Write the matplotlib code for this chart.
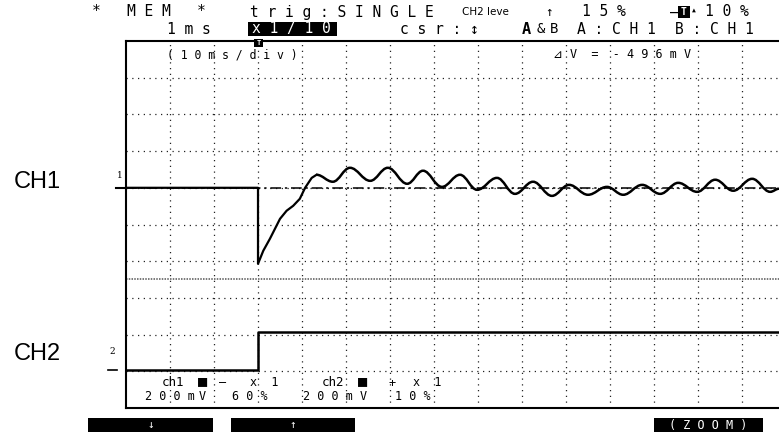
import numpy as np
import matplotlib.pyplot as plt
from matplotlib.path import Path
from matplotlib.patches import PathPatch, Rectangle

# time base: 10 ms/div, trigger at t = 0
t_left, t_right = -30.0, 118.4
ms_per_div = 10
mv_per_div = 200
ch1_pos = 6   # 60 %
ch2_pos = 1   # 10 %

# CH1 step response (mV) up to the first overshoot
ch1_t = [-30, 0, 0, 1.2, 2.7, 5.0, 6.5, 8.0, 9.5, 10.7, 12.2, 13.3]
ch1_mv = [0, 0, -414, -343, -278, -169, -125, -98, -60, 0, 54, 71]

# CH1 ringing: successive peaks and troughs (mV)
ring_t = [13.3, 17.0, 20.9, 25.5, 29.5, 33.9, 37.5, 41.8, 45.9, 49.8, 54.3,
          58.4, 62.5, 66.8, 70.7, 75.0, 79.3, 83.0, 87.3, 91.4, 95.5, 99.8,
          103.9, 108.0, 112.3, 116.4, 118.4]
ring_mv = [71, 33, 109, 38, 109, 22, 93, 5, 71, -11, 54,
           -33, 33, -44, 16, -38, 5, -38, 16, -33, 27, -22,
           44, -16, 49, -22, -5]

# CH2 trigger step (mV)
ch2_t = [-30, 0, 0, 118.4]
ch2_mv = [8, 8, 212, 212]

cursor_a_mv = 0
cursor_b_mv = -496

MONO = ['DejaVu Sans Mono', 'DejaVu Sans']
W, H = 779, 434


def to_div(mv, pos):
    return pos + np.array(mv, dtype=float) / mv_per_div


fig = plt.figure(figsize=(W / 100, H / 100), dpi=100)
ax = fig.add_axes([126 / W, 1 - 408 / H, 1 - 126 / W, (408 - 41) / H])
ax.set_xlim(t_left, t_right)
ax.set_ylim(0, 10)
ax.set_xticks([])
ax.set_yticks([])
for side in ['left', 'top', 'bottom']:
    ax.spines[side].set_linewidth(1.5)
ax.spines['right'].set_visible(False)

# dotted graticule
for t in np.arange(-20, t_right, ms_per_div):
    ax.axvline(t, color='#222222', lw=0.9, ls=(0, (1.0, 3.6)), zorder=1)
for d in range(1, 10):
    ax.axhline(d, color='#222222', lw=0.9, ls=(0, (1.0, 3.6)), zorder=1)

# cursors
ax.axhline(to_div(cursor_a_mv, ch1_pos), color='black', lw=1.1,
           ls=(0, (7, 2.5, 1.5, 2.5)), zorder=2)
ax.axhline(to_div(cursor_b_mv, ch1_pos), color='#555555', lw=1.1,
           ls=(0, (1, 0.8)), zorder=2)

# CH1 trace
ax.plot(ch1_t, to_div(ch1_mv, ch1_pos), color='black', lw=1.6, zorder=3)
ry = to_div(ring_mv, ch1_pos)
verts = [(ring_t[0], ry[0])]
codes = [Path.MOVETO]
for i in range(1, len(ring_t)):
    x0, y0 = ring_t[i - 1], ry[i - 1]
    x1, y1 = ring_t[i], ry[i]
    dx = x1 - x0
    verts += [(x0 + 0.38 * dx, y0), (x1 - 0.38 * dx, y1), (x1, y1)]
    codes += [Path.CURVE4] * 3
ax.add_patch(PathPatch(Path(verts, codes), facecolor='none',
                       edgecolor='black', lw=1.8, zorder=3))

# CH2 trace
ax.plot(ch2_t, to_div(ch2_mv, ch2_pos), color='black', lw=1.8, zorder=3)

# channel level markers left of the screen
px_t = ms_per_div / 44.0
ax.plot([t_left - 10 * px_t, t_left], [ch1_pos, ch1_pos], color='black',
        lw=1.5, clip_on=False)
ax.plot([t_left - 18 * px_t, t_left - 9 * px_t], [ch2_pos + 0.03] * 2,
        color='black', lw=1.2, clip_on=False)


def ftext(x, y, s, size=8, color='black', ha='left', family=MONO, **kw):
    fig.text(x / W, 1 - y / H, s, fontsize=size, color=color, ha=ha,
             va='center', family=family, **kw)


def fbox(x0, y0, x1, y1):
    fig.patches.append(Rectangle((x0 / W, 1 - y1 / H), (x1 - x0) / W,
                                 (y1 - y0) / H, transform=fig.transFigure,
                                 facecolor='black', edgecolor='none'))


# header line 1
ftext(92, 12, '*   M E M   *', size=10.5)
ftext(250, 12, 't r i g : S I N G L E', size=10.5)
ftext(462, 12, 'CH2 leve', size=7.5, family='DejaVu Sans')
ftext(549, 12, '↑', size=9, ha='center')
ftext(582, 12, '1 5 %', size=10.5)
ftext(670, 12, '–', size=10.5)
fbox(678, 6, 690, 18)
ftext(684, 12, 'T', size=7, color='white', ha='center', weight='bold')
ftext(694, 10, '▴', size=7, ha='center')
ftext(705, 12, '1 0 %', size=10.5)

# header line 2
ftext(167, 29, '1 m s', size=10.5)
fbox(248, 22, 337, 36)
ftext(252, 29, 'x 1 / 1 0', size=10.5, color='white')
ftext(400, 29, 'c s r : ↕', size=10.5)
ftext(522, 29, 'A', size=11, weight='bold')
ftext(537, 29, '&', size=10)
ftext(550, 29, 'B', size=10)
ftext(577, 29, 'A : C H 1', size=10.5)
ftext(675, 29, 'B : C H 1', size=10.5)

# trigger position mark on the top border
fbox(254, 39, 263, 47)
ftext(258.5, 43, 'T', size=5, color='white', ha='center', weight='bold')

# in-screen readouts
ftext(167, 55, '( 1 0 m s / d i v )', size=8.3)
ftext(553, 55, '⊿ V  =  - 4 9 6 m V', size=8.5)

# channel settings
ftext(162, 383, 'ch1', size=9)
ftext(203, 381, '■', size=11, ha='center')
ftext(223, 383, '–', size=8.5, ha='center')
ftext(250, 383, 'x  1', size=8.5)
ftext(322, 383, 'ch2', size=9)
ftext(363, 381, '■', size=11, ha='center')
ftext(392, 383, '+', size=8.5, ha='center')
ftext(413, 383, 'x  1', size=8.5)
ftext(145, 397, '2 0 0 m', size=8.5)
ftext(202, 397, 'V', size=8.5, ha='center')
ftext(232, 397, '6 0 %', size=8.5)
ftext(303, 397, '2 0 0 m', size=8.5)
ftext(363, 397, 'V', size=8.5, ha='center')
ftext(395, 397, '1 0 %', size=8.5)

# side labels
ftext(14, 182, 'CH1', size=17, family='Liberation Sans')
ftext(14, 354, 'CH2', size=17, family='Liberation Sans')
ftext(120, 175, '1', size=6.5, ha='center', family='DejaVu Serif')
ftext(112, 352, '2', size=6.5, ha='center', family='DejaVu Serif')

# soft keys
fbox(88, 418, 213, 432)
ftext(151, 425, '↓', size=8, color='white', ha='center')
fbox(231, 418, 355, 432)
ftext(293, 425, '↑', size=8, color='white', ha='center')
fbox(654, 418, 763, 432)
ftext(708, 425, '( Z O O M )', size=8.5, color='white', ha='center')

fig.savefig('out.png', dpi=100)
